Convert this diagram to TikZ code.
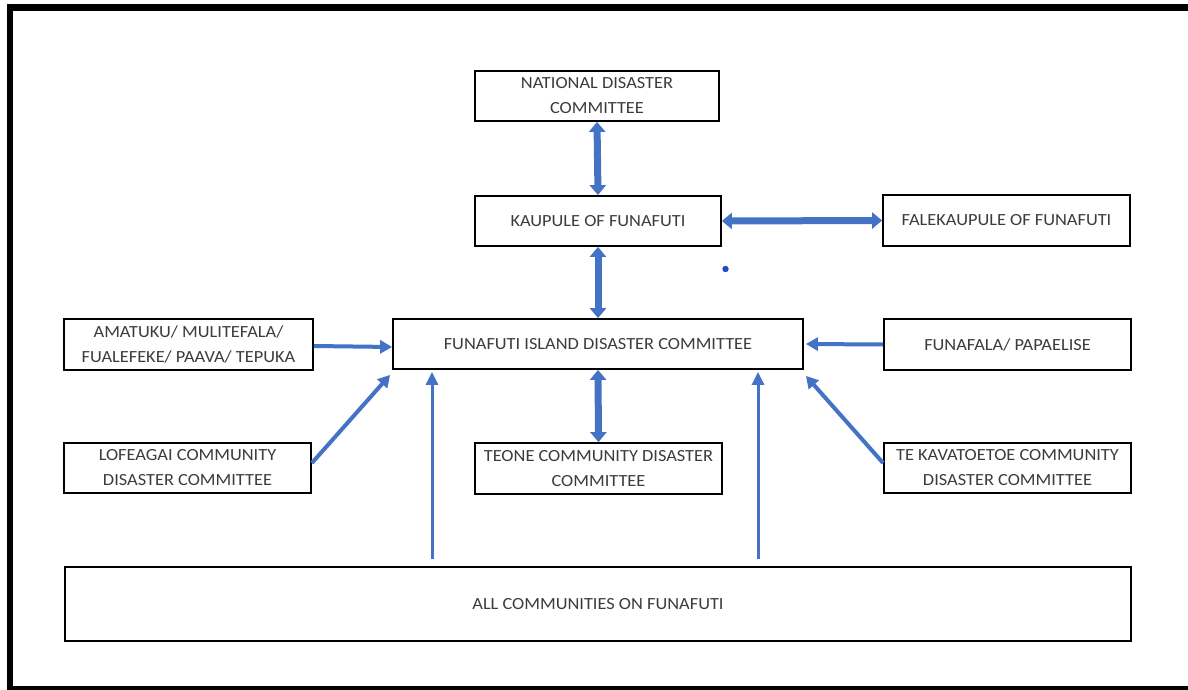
\documentclass[tikz,border=0pt]{standalone}
\usepackage{fontspec}
\setmainfont{Carlito}[FakeStretch=1.08]
\usetikzlibrary{arrows.meta}
\definecolor{arrowblue}{RGB}{68,114,196}
\definecolor{dotblue}{RGB}{30,75,205}
\definecolor{textgray}{RGB}{60,60,60}
\tikzset{
  box/.style={draw=black, line width=1.8pt, fill=white, inner sep=0pt, align=center,
    text=textgray, font=\fontsize{17}{25}\selectfont},
  dblarrow/.style={draw=arrowblue, line width=7pt,
    {Triangle[width=16pt,length=10pt]}-{Triangle[width=16pt,length=10pt]}},
  onearrow/.style={draw=arrowblue, line width=4pt, -{Triangle[width=13pt,length=12pt]}},
  thinarrow/.style={draw=arrowblue, line width=3pt, -{Triangle[width=12pt,length=13pt]}},
  frame/.style={draw=black, line width=6.5pt}
}
\begin{document}
\begin{tikzpicture}[x=1pt,y=-1pt]
\useasboundingbox (0,0) rectangle (1188,690);
\fill[white] (0,0) rectangle (1188,690);
% outer frame (left, top, bottom)
\draw[frame] (1195,7.5) -- (10,7.5) -- (10,689.5) -- (1195,689.5);

\node[box, minimum width=244pt, minimum height=50pt] (ndc) at (597,96) {NATIONAL DISASTER\\COMMITTEE};
\node[box, minimum width=246pt, minimum height=50pt] (kau) at (598,221) {KAUPULE OF FUNAFUTI};
\node[box, minimum width=247pt, minimum height=51pt] (fale) at (1006.5,220.5) {FALEKAUPULE OF FUNAFUTI};
\node[box, minimum width=410pt, minimum height=50pt] (fidc) at (598,344) {FUNAFUTI ISLAND DISASTER COMMITTEE};
\node[box, minimum width=249pt, minimum height=51pt] (ama) at (188.5,344.5) {AMATUKU/ MULITEFALA/\\FUALEFEKE/ PAAVA/ TEPUKA};
\node[box, minimum width=247pt, minimum height=50pt] (lof) at (187.5,468) {LOFEAGAI COMMUNITY\\DISASTER COMMITTEE};
\node[box, minimum width=247pt, minimum height=51pt] (funa) at (1007.5,344.5) {FUNAFALA/ PAPAELISE};
\node[box, minimum width=247pt, minimum height=50pt] (tek) at (1007.5,468) {TE KAVATOETOE COMMUNITY\\DISASTER COMMITTEE};
\node[box, minimum width=247pt, minimum height=51pt] (teone) at (598.5,468.5) {TEONE COMMUNITY DISASTER\\COMMITTEE};
\node[box, minimum width=1066pt, minimum height=74pt] (all) at (598,604) {ALL COMMUNITIES ON FUNAFUTI};

% double arrows
\draw[dblarrow] (ndc.south) -- (kau.north);
\draw[dblarrow] (kau.east) -- (fale.west);
\draw[dblarrow] (kau.south) -- (fidc.north);
\draw[dblarrow] (fidc.south) -- (teone.north);

% single arrows into FIDC
\draw[onearrow] ([yshift=-1.5pt]ama.east) -- ([yshift=-3pt]fidc.west);
\draw[onearrow] ([yshift=5pt]lof.east) -- ([xshift=-2pt,yshift=-5pt]fidc.south west);
\draw[onearrow] (funa.west) -- ([xshift=2pt]fidc.east);
\draw[onearrow] ([yshift=5pt]tek.west) -- ([xshift=2pt,yshift=-6pt]fidc.south east);

% thin arrows from all communities
\draw[thinarrow] ([xshift=-166pt,yshift=7pt]all.north) -- ([xshift=-166pt,yshift=-2pt]fidc.south);
\draw[thinarrow] ([xshift=160pt,yshift=7pt]all.north) -- ([xshift=160pt,yshift=-2pt]fidc.south);

% stray dot
\fill[dotblue] (725.5,269) circle (3.2pt);
\end{tikzpicture}
\end{document}
